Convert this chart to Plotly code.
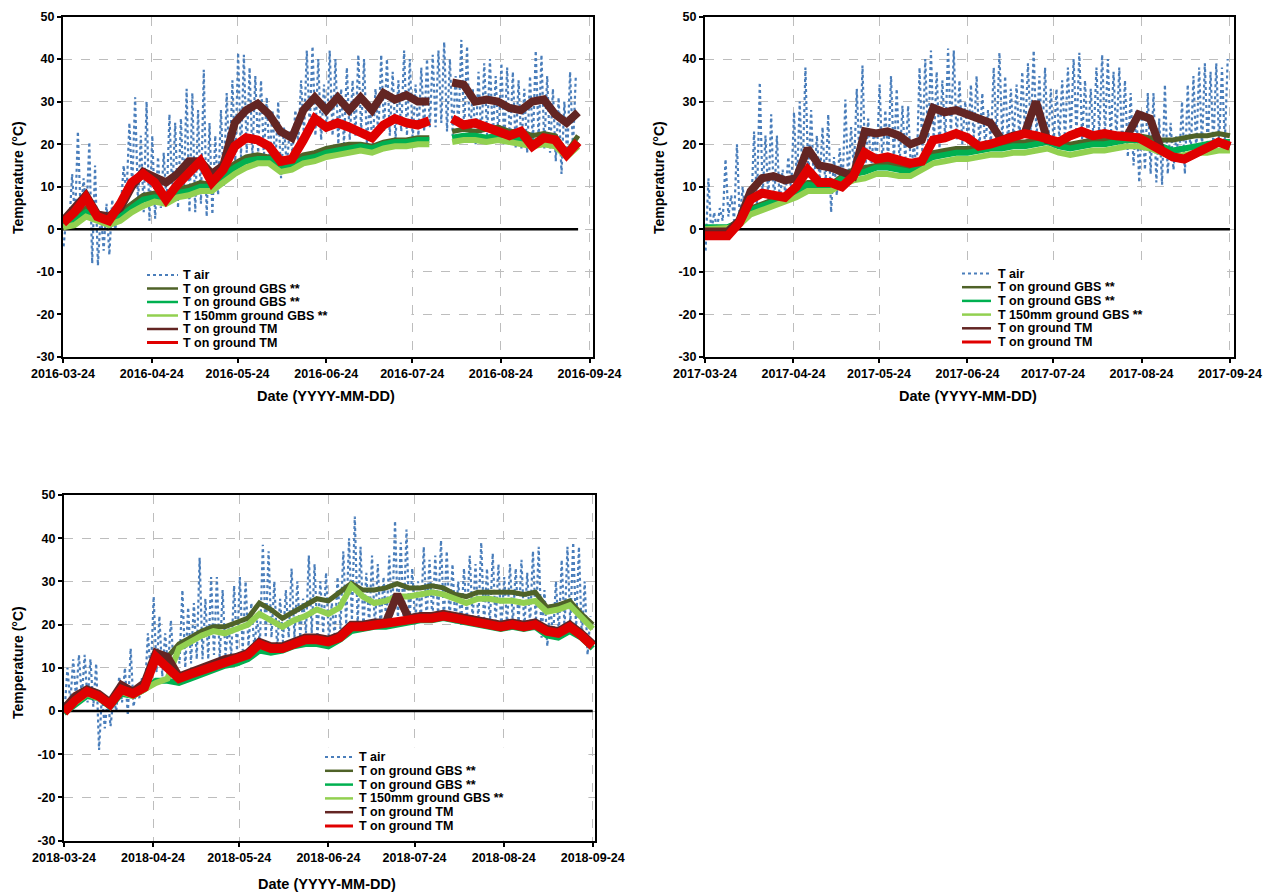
import datetime as dt
import plotly.graph_objects as go

FONT = "Liberation Sans, Arial, sans-serif"

# ---------------- series meta ----------------
SERIES_NAMES = ["T air", "T on ground GBS **", "T on ground GBS **",
                "T 150mm ground GBS **", "T on ground TM", "T on ground TM"]
SERIES_COLORS = ["#4A7EBB", "#4F6228", "#00B050", "#92D050", "#632523", "#E00000"]

Y_TICKS = [-30, -20, -10, 0, 10, 20, 30, 40, 50]
X_TICKS_2016 = ["2016-03-24", "2016-04-24", "2016-05-24", "2016-06-24", "2016-07-24", "2016-08-24", "2016-09-24"]
X_TICKS_2017 = ["2017-03-24", "2017-04-24", "2017-05-24", "2017-06-24", "2017-07-24", "2017-08-24", "2017-09-24"]
X_TICKS_2018 = ["2018-03-24", "2018-04-24", "2018-05-24", "2018-06-24", "2018-07-24", "2018-08-24", "2018-09-24"]

AIR_STEP_DAYS = 2    # one (min, max) pair per 2 days
SOIL_STEP_DAYS = 4   # one value per 4 days

# ---------------- 2016 ----------------
air_max_2016 = [3, 13, 23, 12, 20.5, 15, 4, 6, 7, 3,
                15, 25, 31, 22, 30, 22, 17, 18, 27, 25,
                26, 33, 32, 28, 37.5, 25, 22, 28, 32, 35,
                41.5, 41, 38, 36, 35, 31, 28, 30, 24, 23,
                28, 35, 42, 43, 40, 34, 42, 40, 33, 38,
                35, 41, 40, 30, 33, 41, 40, 37, 35, 42,
                40, 34, 38, 40, 41, 42, 44, 40, 36, 44.5,
                43, 33, 37, 39, 40, 36, 39, 38, 37, 35,
                33, 36, 42, 41, 36, 33, 31, 30, 37, 36]
air_min_2016 = [-4, 1, 2, 3, 4, -8, -8.5, -5, -6, 0,
                5, 8, 10, 6, 4, 2, 2.5, 5, 6, 8,
                5, 8, 4, 4, 6, 3, 3.5, 8, 10, 14,
                16, 17, 18, 17, 18, 17, 16, 15, 12, 15,
                18, 20, 22, 24, 22, 21, 23, 22, 20, 20,
                21, 22, 23, 20, 19, 22, 23, 22, 21, 23,
                22, 21, 22, 23, 24, 24, 25, 23, 22, 24,
                23, 21, 20, 21, 22, 21, 21, 20, 20, 19,
                19, 18, 20, 21, 19, 18, 16, 13, 17, 19]
gbs1_2016 = [1.5, 3, 5, 3, 2, 4, 6, 8, 8.5, 8,
             9.5, 10, 11, 10.5, 13.5, 15.5, 17, 17.5, 17, 14.5,
             16, 17.5, 18, 19, 19.5, 20, 20, 19.5, 20.5, 21,
             21, 21.5, 21.5, None, 23, 23.5, 23, 23.5, 24, 23,
             23, 22, 22.5, 22, 18, 22]
gbs2_2016 = [1, 2, 4, 2.5, 1.5, 3, 5, 7, 7.5, 7,
             8.5, 9, 10, 10, 12.5, 14.5, 16, 16.5, 16.5, 14,
             15, 16.5, 17, 18, 18.5, 19, 19.5, 19, 20, 20.5,
             20.5, 21, 21, None, 21.5, 22, 22, 21.5, 22, 21.5,
             21, 20.5, 21, 20.5, 17.5, 20.5]
gbs150_2016 = [0.5, 1, 3, 2, 1, 2, 4, 5.5, 6.5, 6,
               7.5, 8, 9, 9, 11, 13, 14.5, 15.5, 15.5, 13.5,
               14, 15.5, 16, 17, 17.5, 18, 18.5, 18, 19, 19.5,
               19.5, 20, 20, None, 20.5, 21, 21, 20.5, 21, 20.5,
               20, 19.5, 20, 19.5, 17, 19.5]
tm1_2016 = [2, 5, 8, 3.5, 3, 5, 10, 13.5, 12.5, 11,
            13, 16, 16, 13, 15, 25, 28, 29.5, 27, 23,
            21.5, 28, 31, 28, 31, 28, 31, 28, 32, 30.5,
            31.5, 30, 30, None, 34.5, 34, 30, 30.5, 30, 28.5,
            28, 30, 30.5, 27, 25, 27.5]
tm2_2016 = [1.5, 4, 7.5, 3, 2, 6, 11, 13, 11, 7,
            10.5, 13, 16, 11, 14, 19.5, 21.5, 21, 19.5, 16,
            16.5, 21, 26, 24, 25, 24, 23, 21.5, 24.5, 26,
            25, 24.5, 25.5, None, 26, 24.5, 25, 24, 22.5, 22,
            23, 19.5, 21.5, 21, 17.5, 20.5]

# ---------------- 2017 ----------------
air_max_2017 = [12, 4, 5, 16.5, 8, 20, 10, 8, 23, 34.5,
                22, 27, 22, 14, 17, 27.5, 30, 38, 28, 22,
                24, 27, 17, 19, 30.5, 24, 33, 38.5, 26, 23,
                34, 28, 36, 33, 29, 29, 20, 38, 40, 42,
                37, 35, 42.5, 42, 35, 30, 34, 36, 32, 28,
                38, 41.5, 36, 33, 34, 37, 39, 42, 36, 38,
                33, 33, 35, 38, 40, 41.5, 35, 33, 38, 41,
                40, 37, 38, 35, 32, 28, 28, 32, 32, 26,
                34, 25, 22, 30, 34, 36, 38, 39, 37, 39,
                38, 40]
air_min_2017 = [-5, -1, 0, 2, 3, 2, 2, 3, 4, 6,
                8, 7, 5, 6, 8, 9, 10, 12, 12, 10,
                11, 10, 4, 8, 10, 11, 14, 15, 14, 14,
                16, 15, 16, 16, 15, 16, 13, 14, 18, 20,
                20, 19, 21, 22, 21, 20, 20, 21, 19, 19,
                20, 21, 21, 20, 21, 21, 22, 22, 21, 21,
                19, 20, 21, 21, 22, 22, 21, 20, 21, 22,
                22, 21, 21, 20, 17, 15, 11, 14, 13, 11,
                10.5, 13, 14, 16, 13, 17, 18, 19, 19, 19,
                20, 20]
gbs1_2017 = [0, 0, 0.5, 2, 5, 6, 7, 8, 9, 11,
             11, 10.5, 12.5, 14, 14.5, 15, 15.5, 15, 14, 16.5,
             18, 18.5, 19, 19, 19.5, 20, 20, 20.5, 20.5, 21,
             21.5, 20.5, 20, 20.5, 21, 21, 21.5, 22, 22, 21.5,
             21, 21, 21.5, 22, 22, 22.5, 22]
gbs2_2017 = [0.5, 0.5, 0.5, 1.5, 4.5, 5.5, 6.5, 7.5, 8.5, 10.5,
             10, 10, 12, 13, 13.5, 14.5, 14.5, 14, 13.5, 15.5,
             17, 17.5, 18, 18, 18.5, 19, 19, 19.5, 19.5, 20,
             20.5, 19.5, 19, 19.5, 20, 20, 20.5, 21, 21, 20.5,
             19.5, 18.5, 19, 19.5, 20, 20.5, 20.5]
gbs150_2017 = [0, 0, 0.3, 1, 3.5, 4.5, 5.5, 6.5, 7.5, 9,
               9, 9, 10.5, 11.5, 12, 13, 13, 12.5, 12.5, 14,
               15.5, 16, 16.5, 16.5, 17, 17.5, 17.5, 18, 18, 18.5,
               19, 18, 17.5, 18, 18.5, 18.5, 19, 19.5, 19.5, 19,
               18, 17, 17.5, 18, 18, 18.5, 18.5]
tm1_2017 = [-0.5, -0.5, -0.5, 2, 9, 12, 12.5, 11.5, 12, 19,
            15, 14.5, 13.5, 12.5, 23, 22.5, 23, 22, 20, 21,
            28.5, 27.5, 28, 27, 26, 25, 21, 22, 22.5, 30,
            21, 20.5, 22, 23, 22, 22.5, 22, 22, 27, 26,
            18.5, 17, 16.5, 18, 19.5, 20.5, 19.5]
tm2_2017 = [-1.5, -1.5, -1.5, 1.5, 7, 8.5, 8, 7.5, 10, 14,
            11, 11, 10, 12.5, 18, 16.5, 17, 16.5, 15.5, 16,
            21, 21.5, 22.5, 21.5, 19.5, 20, 21, 22, 22.5, 22,
            21, 20.5, 22, 23, 22, 22.5, 22, 22, 21.5, 20,
            18.5, 17, 16.5, 18, 19.5, 20.5, 19.5]

# ---------------- 2018 ----------------
air_max_2018 = [10, 12, 13, 13, 12, 11, 4, 3, 3, 8,
                10, 14.5, 5, 8, 18, 26.5, 22, 18, 21, 15,
                28, 24, 25, 35.5, 26, 31, 31, 28, 20, 29,
                31, 30, 25, 21, 38.5, 37, 30, 26, 28, 33,
                30, 26, 36, 34, 30, 32, 25, 31, 37, 40,
                45, 38, 32, 36, 34, 31, 36, 44, 39, 42,
                33, 30, 38, 35, 36, 39.5, 37, 34, 30, 33,
                36, 34, 39, 33, 36.5, 34, 31, 34, 33, 35,
                32, 37, 38, 28, 25, 30, 35, 38, 39, 38,
                30, 22]
air_min_2018 = [0, 2, 3, 3, 2, 1, -9, -4, -3.5, 0,
                2, -1, 1, 3, 5, 8, 9, 8, 10, 10,
                11, 10, 11, 12, 12, 12, 13, 12, 13, 13,
                14, 14, 15, 15, 16, 17, 17, 14, 16, 17,
                17, 17, 18, 18, 17, 18, 16, 17, 19, 20,
                21, 20, 19, 20, 19, 19, 20, 21, 21, 21,
                20, 20, 21, 21, 21, 22, 21, 21, 20, 20,
                21, 21, 21, 20, 20, 20, 19, 20, 20, 20,
                19, 20, 20, 17, 15, 17, 18, 19, 20, 19,
                17, 13]
gbs1_2018 = [0.5, 2.5, 4.5, 3.5, 1.5, 5, 4, 5.5, 13, 12.5,
             15.5, 17, 18.5, 19.5, 19.5, 20.5, 21.5, 25, 23.5, 21.5,
             23, 24.5, 26, 25.5, 27.5, 29.5, 28, 28, 28.5, 29.5,
             28.5, 28.5, 29, 28.5, 27, 26.5, 27.5, 27.5, 27.5, 27.5,
             27, 27.5, 24, 24.5, 25.5, 22.5, 20]
gbs2_2018 = [-0.5, 1.5, 3.5, 3, 1, 4, 3.5, 5, 7, 7,
             6.5, 7.5, 8.5, 9.5, 10.5, 11, 12, 14, 13.5, 14,
             15, 15.5, 15.5, 15, 16.5, 18.5, 19, 19.5, 19.5, 20,
             20.5, 21, 21, 21.5, 21, 20.5, 20, 19.5, 19, 19.5,
             19, 19.5, 17.5, 17, 18.5, 17, 14.5]
gbs150_2018 = [0, 2, 4, 3, 1.5, 4.5, 3.5, 5, 6.5, 7.5,
               14.5, 16, 17.5, 18.5, 18, 19, 20, 22.5, 21, 19.5,
               21, 22, 23.5, 22.5, 24, 29, 26.5, 25, 25.5, 26.5,
               26.5, 27, 27.5, 27, 26, 25, 26, 26, 25.5, 25.5,
               25, 25.5, 23, 23.5, 24.5, 21.5, 19]
tm1_2018 = [0.5, 3.5, 5, 4, 2, 6, 4.5, 6.5, 13.5, 12.5,
            8, 9, 10, 11, 12, 12.5, 13.5, 16, 15, 15,
            16, 17, 17, 16.5, 17.5, 20, 20, 20.5, 20.5, 27,
            21.5, 22, 22, 22.5, 22, 21.5, 21, 20.5, 20, 20.5,
            20, 20.5, 19, 18.5, 20, 18, 15.5]
tm2_2018 = [-0.3, 2.5, 4.5, 3.5, 1.5, 5, 4, 5.5, 12.5, 10,
            7.5, 8.5, 9.5, 10.5, 11.5, 12, 13, 15.5, 14.5, 14.5,
            15.5, 16.5, 16.5, 16, 17, 19.5, 19.5, 20, 20, 20.5,
            21, 21.5, 21.5, 22, 21.5, 21, 20.5, 20, 19.5, 20,
            19.5, 20, 18.5, 18, 19.5, 17.5, 15]

ZERO_LINE_END = {2016: "2016-09-20", 2017: "2017-09-24", 2018: "2018-09-24"}

# ---------------- page geometry (layout only) ----------------
# The html page body has an 8px default margin, so the figure is sized to fill
# the rest of the 1279x896 window and positions are given in window pixels.
OFF = 8
W, H = 1279 - OFF, 896 - OFF


def px_x(v):
    return (v - OFF) / W


def px_y(v):
    return 1 - (v - OFF) / H


TOP_ROW_TOP = 16.5

panels = [
    dict(year=2016, start="2016-03-24", xr=["2016-03-24", "2016-09-25 05:00"],
         xd=[px_x(63), px_x(593)], yd=[px_y(357), px_y(TOP_ROW_TOP)], ticks=X_TICKS_2016,
         air=(air_min_2016, air_max_2016),
         soil=[gbs1_2016, gbs2_2016, gbs150_2016, tm1_2016, tm2_2016],
         mask=("2016-03-24", "2016-07-23 18:00", -30, -9.0),
         ytitle=(18, 178), xtitle=(326, 396),
         legend=(147, 178, 181, 275, 13.5)),
    dict(year=2017, start="2017-03-24", xr=["2017-03-24", "2017-09-25 10:00"],
         xd=[px_x(705), px_x(1234)], yd=[px_y(357), px_y(TOP_ROW_TOP)], ticks=X_TICKS_2017,
         air=(air_min_2017, air_max_2017),
         soil=[gbs1_2017, gbs2_2017, gbs150_2017, tm1_2017, tm2_2017],
         mask=("2017-05-24 12:00", "2017-09-22 12:00", -30, -8.6),
         ytitle=(659, 178), xtitle=(968, 396),
         legend=(962, 991, 996, 273.5, 13.7)),
    dict(year=2018, start="2018-03-24", xr=["2018-03-24", "2018-09-24 19:00"],
         xd=[px_x(64), px_x(595)], yd=[px_y(840.7), px_y(495)], ticks=X_TICKS_2018,
         air=(air_min_2018, air_max_2018),
         soil=[gbs1_2018, gbs2_2018, gbs150_2018, tm1_2018, tm2_2018],
         mask=("2018-05-24 12:00", "2018-09-22 12:00", -30, -8.4),
         ytitle=(18, 663), xtitle=(327, 884),
         legend=(325, 353, 357, 757, 13.8)),
]

SOIL_WIDTHS = [5, 6, 6, 8, 9]
LEGEND_LINE_WIDTHS = [2, 2.5, 2.5, 2.5, 2.5, 3]

fig = go.Figure()
shapes = []
annotations = []
layout_axes = {}

for k, p in enumerate(panels):
    sfx = "" if k == 0 else str(k + 1)
    xa, ya = "x" + sfx, "y" + sfx
    start = dt.datetime.fromisoformat(p["start"])

    # T air: alternating daily min / max (dotted)
    lo_list, hi_list = p["air"]
    xs, ys = [], []
    for i, (lo, hi) in enumerate(zip(lo_list, hi_list)):
        xs += [start + dt.timedelta(days=AIR_STEP_DAYS * i + 0.2),
               start + dt.timedelta(days=AIR_STEP_DAYS * i + 1.2)]
        ys += [lo, hi]
    fig.add_trace(go.Scatter(x=xs, y=ys, mode="lines", name=SERIES_NAMES[0],
                             line=dict(color=SERIES_COLORS[0], width=2.2, dash="dot"),
                             xaxis=xa, yaxis=ya, showlegend=False))

    # zero line
    fig.add_trace(go.Scatter(x=[start, dt.datetime.fromisoformat(ZERO_LINE_END[p["year"]])],
                             y=[0, 0], mode="lines", line=dict(color="black", width=2.5),
                             xaxis=xa, yaxis=ya, showlegend=False, hoverinfo="skip"))

    # ground series
    for j, vals in enumerate(p["soil"]):
        sx = [start + dt.timedelta(days=SOIL_STEP_DAYS * i) for i in range(len(vals))]
        fig.add_trace(go.Scatter(x=sx, y=vals, mode="lines", name=SERIES_NAMES[j + 1],
                                 line=dict(color=SERIES_COLORS[j + 1], width=SOIL_WIDTHS[j]),
                                 xaxis=xa, yaxis=ya, showlegend=False))

    tick_font = dict(family=FONT, size=12.5, color="black", weight="bold")
    layout_axes["xaxis" + sfx] = dict(
        domain=p["xd"], range=p["xr"], type="date", anchor=ya, automargin=False,
        tickmode="array", tickvals=p["ticks"], ticktext=p["ticks"],
        ticklabeloverflow="allow",
        showgrid=True, gridcolor="#BDBDBD", griddash="dash", gridwidth=1,
        showline=True, linecolor="black", linewidth=2, mirror=True,
        ticks="outside", ticklen=4, tickwidth=1.5, tickcolor="black",
        tickfont=tick_font, zeroline=False)
    layout_axes["yaxis" + sfx] = dict(
        domain=p["yd"], range=[-30, 50], anchor=xa, automargin=False,
        tickmode="array", tickvals=Y_TICKS, ticktext=[str(v) for v in Y_TICKS],
        ticklabeloverflow="allow",
        showgrid=True, gridcolor="#BDBDBD", griddash="dash", gridwidth=1,
        showline=True, linecolor="black", linewidth=2, mirror=True,
        ticks="outside", ticklen=4, tickwidth=1.5, tickcolor="black",
        tickfont=tick_font, zeroline=False)

    # white area hiding gridlines behind the legend block
    mx0, mx1, my0, my1 = p["mask"]
    shapes.append(dict(type="rect", xref=xa, yref=ya, x0=mx0, x1=mx1, y0=my0, y1=my1,
                       fillcolor="white", line=dict(width=0), layer="between"))

    # axis titles
    tx, ty = p["ytitle"]
    annotations.append(dict(text="Temperature (°C)", xref="paper", yref="paper",
                            x=px_x(tx), y=px_y(ty), textangle=-90, showarrow=False,
                            xanchor="center", yanchor="middle",
                            font=dict(family=FONT, size=14, color="black", weight="bold")))
    tx, ty = p["xtitle"]
    annotations.append(dict(text="Date (YYYY-MM-DD)", xref="paper", yref="paper",
                            x=px_x(tx), y=px_y(ty), showarrow=False,
                            xanchor="center", yanchor="middle",
                            font=dict(family=FONT, size=14.5, color="black", weight="bold")))

    # legend block
    lx0, lx1, ltx, ly0, lstep = p["legend"]
    for j, name in enumerate(SERIES_NAMES):
        yy = ly0 + lstep * j
        shapes.append(dict(type="line", xref="paper", yref="paper",
                           x0=px_x(lx0), x1=px_x(lx1), y0=px_y(yy), y1=px_y(yy),
                           line=dict(color=SERIES_COLORS[j], width=LEGEND_LINE_WIDTHS[j],
                                     dash="dot" if j == 0 else "solid"),
                           layer="above"))
        annotations.append(dict(text=name, xref="paper", yref="paper",
                                x=px_x(ltx), y=px_y(yy), showarrow=False,
                                xanchor="left", yanchor="middle",
                                font=dict(family=FONT, size=12.5, color="black", weight="bold")))

fig.update_layout(
    width=W, height=H, autosize=False,
    margin=dict(l=0, r=0, t=0, b=0, pad=0, autoexpand=False),
    paper_bgcolor="white", plot_bgcolor="white", showlegend=False,
    shapes=shapes, annotations=annotations, **layout_axes)

fig.write_html("out.html")
